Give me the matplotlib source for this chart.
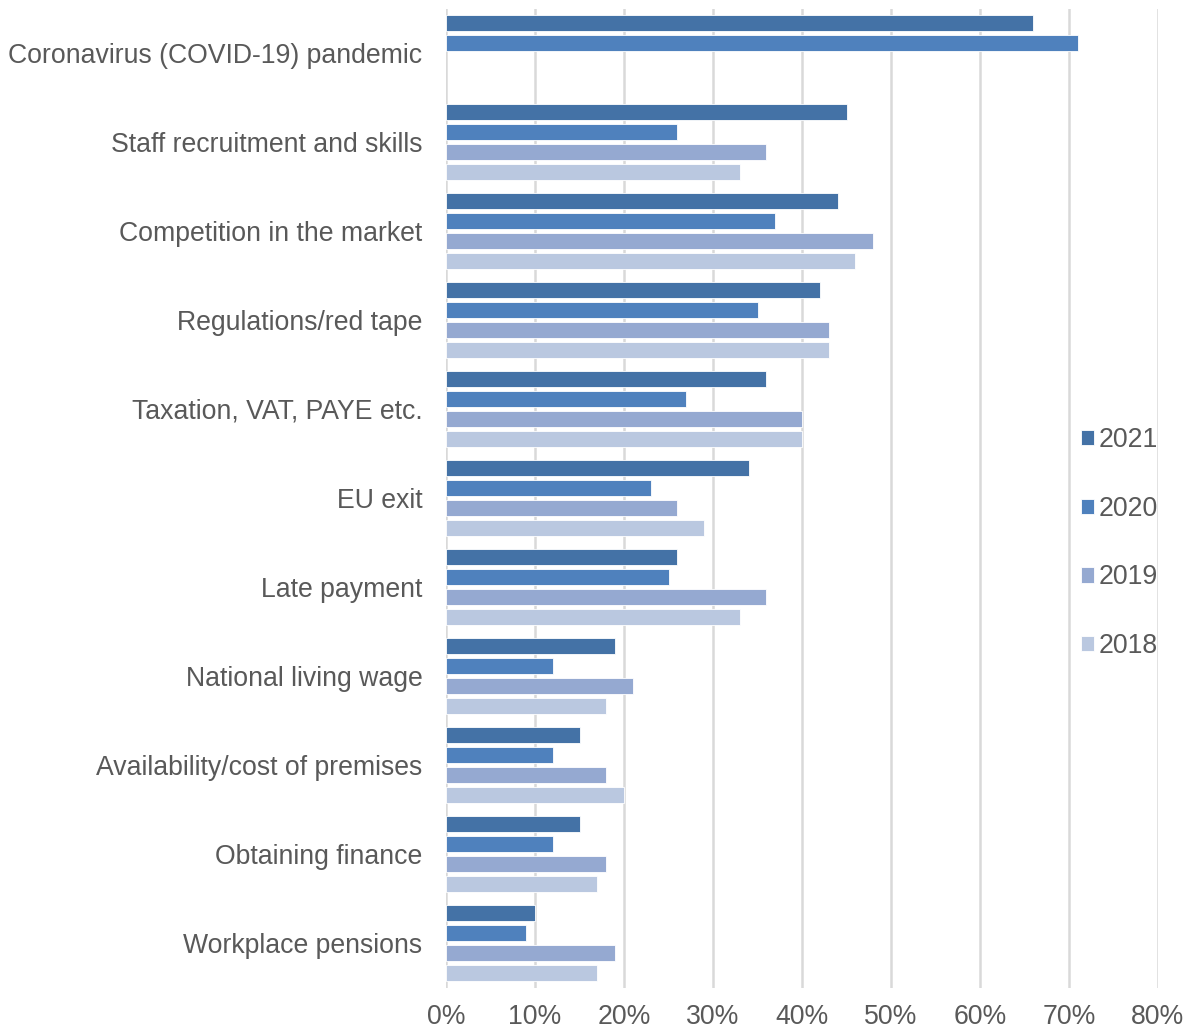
import numpy as np
import matplotlib.pyplot as plt
from matplotlib.ticker import PercentFormatter

plt.rcParams['font.family'] = ['Liberation Sans', 'DejaVu Sans']

categories = [
    "Coronavirus (COVID-19) pandemic",
    "Staff recruitment and skills",
    "Competition in the market",
    "Regulations/red tape",
    "Taxation, VAT, PAYE etc.",
    "EU exit",
    "Late payment",
    "National living wage",
    "Availability/cost of premises",
    "Obtaining finance",
    "Workplace pensions",
]
years = ["2021", "2020", "2019", "2018"]
v2021 = [66, 45, 44, 42, 36, 34, 26, 19, 15, 15, 10]
v2020 = [71, 26, 37, 35, 27, 23, 25, 12, 12, 12, 9]
v2019 = [np.nan, 36, 48, 43, 40, 26, 36, 21, 18, 18, 19]
v2018 = [np.nan, 33, 46, 43, 40, 29, 33, 18, 20, 17, 17]
colors = ["#4472a6", "#4f81bd", "#95a9d1", "#bac8e0"]

fig = plt.figure(figsize=(11.87, 10.34), dpi=100)
ax = fig.add_axes([446 / 1187, 1 - 987.5 / 1034, 712 / 1187, 979 / 1034])

y = np.arange(len(categories))
slot = 0.2247
for k, (vals, c, yr) in enumerate(zip([v2021, v2020, v2019, v2018], colors, years)):
    ax.barh(y + (k - 1.5) * slot, vals, height=0.18, color=c,
            edgecolor="white", linewidth=0.6, label=yr, zorder=3)

ax.set_ylim(len(categories) - 0.5, -0.5)
ax.set_xlim(0, 80)
ax.set_xticks(np.arange(0, 81, 10))
ax.xaxis.set_major_formatter(PercentFormatter(decimals=0))
ax.set_yticks(y)
ax.set_yticklabels(categories)
ax.tick_params(axis="both", length=0, labelsize=19.2, labelcolor="#595959")
ax.tick_params(axis="y", pad=17)
ax.tick_params(axis="x", pad=12)
ax.grid(axis="x", color="#d9d9d9", linewidth=1.8, zorder=0)
for s in ax.spines.values():
    s.set_visible(False)

leg = ax.legend(loc="center left", bbox_to_anchor=(0.858, 0.454), frameon=False,
                fontsize=19.2, labelcolor="#595959", handlelength=0.5,
                handleheight=0.5, handletextpad=0.15, labelspacing=1.6)

fig.savefig("out.png", dpi=100)
